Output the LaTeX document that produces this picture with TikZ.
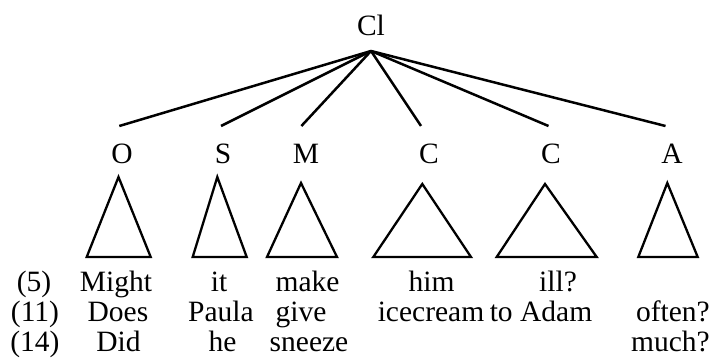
\documentclass[tikz,border=0pt]{standalone}
\usepackage{fontspec}
\setmainfont{Liberation Serif}
\begin{document}
\begin{tikzpicture}[x=1pt, y=-1pt,
    word/.style={inner sep=0pt, anchor=base, font=\fontsize{29.5}{30}\selectfont},
    branch/.style={line width=2.5pt},
    roof/.style={line width=2.3pt, line join=miter}]
  \useasboundingbox (0,0) rectangle (716,358);

  % root and its constituents
  \node[word] (cl) at (371,36) {Cl};
  \coordinate (root) at (371,51);
  \node[word] (o)  at (122,164) {O};
  \node[word] (s)  at (223,164) {S};
  \node[word] (m)  at (306,164) {M};
  \node[word] (c1) at (429,164) {C};
  \node[word] (c2) at (551,164) {C};
  \node[word] (a)  at (672,164) {A};

  % upper ends of the branches
  \coordinate (eo)  at (119.3,126);
  \coordinate (es)  at (221,126);
  \coordinate (em)  at (301.4,126);
  \coordinate (ec1) at (421,126);
  \coordinate (ec2) at (548.5,126);
  \coordinate (ea)  at (665.5,126);

  \foreach \e in {eo,es,em,ec1,ec2,ea}
    \draw[branch] (root) -- (\e);

  % triangles standing for unanalysed constituents
  \draw[roof] (118.5,177) -- (150.7,257) -- (86.7,257) -- cycle;
  \draw[roof] (217.3,177) -- (246.7,257) -- (192.7,257) -- cycle;
  \draw[roof] (301,183)   -- (337,257)   -- (267,257)   -- cycle;
  \draw[roof] (422.3,184) -- (471,257)   -- (373.3,257) -- cycle;
  \draw[roof] (545,184)   -- (596.7,257) -- (496.7,257) -- cycle;
  \draw[roof] (667.3,183) -- (697.7,257) -- (638.3,257) -- cycle;

  % example sentences
  \node[word] (n5)  at (34,292)  {(5)};
  \node[word] (w51) at (116,292) {Might};
  \node[word] (w52) at (219,292) {it};
  \node[word] (w53) at (307.5,292) {make};
  \node[word] (w54) at (431.5,292) {him};
  \node[word] (w55) at (558,292) {ill?};

  \node[word] (n11)  at (35,322)  {(11)};
  \node[word] (w111) at (118,322) {Does};
  \node[word] (w112) at (221,322) {Paula};
  \node[word] (w113) at (301,322) {give};
  \node[word] (w114) at (431,322) {icecream};
  \node[word] (w115) at (541,322) {to Adam};
  \node[word, anchor=base east] (w116) at (710,322) {often?};

  \node[word] (n14)  at (35,352)  {(14)};
  \node[word] (w141) at (118.5,352) {Did};
  \node[word] (w142) at (222.5,352) {he};
  \node[word] (w143) at (309,352) {sneeze};
  \node[word, anchor=base east] (w146) at (710,352) {much?};
\end{tikzpicture}
\end{document}
